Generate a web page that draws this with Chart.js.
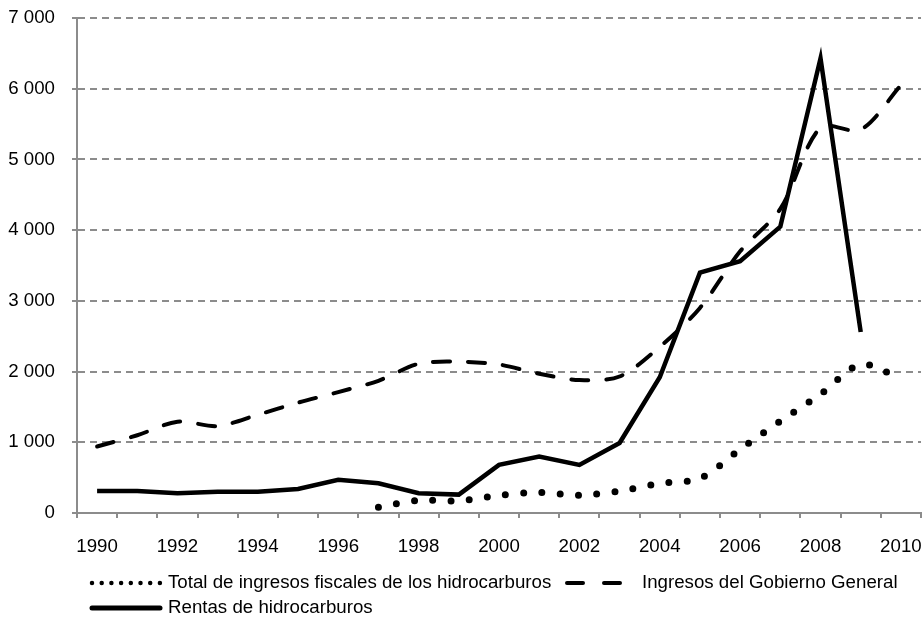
<!DOCTYPE html>
<html>
<head>
<meta charset="utf-8">
<script src="https://cdn.jsdelivr.net/npm/chart.js@4/dist/chart.umd.min.js"></script>
<style>
    body { margin: 0; background: #fff; }
    #wrap { width: 923px; height: 617px; }
</style>
</head>
<body>
<div id="wrap"><canvas id="hidroChart" width="923" height="617"></canvas></div>
<script>
// Data
const years = ['1990', '1991', '1992', '1993', '1994', '1995', '1996', '1997', '1998', '1999', '2000',
               '2001', '2002', '2003', '2004', '2005', '2006', '2007', '2008', '2009', '2010'];

const ingresosFiscales = [null, null, null, null, null, null, null,
                          80, 180, 170, 250, 290, 250, 310, 420, 490, 900, 1300, 1680, 2100, 1900];

const ingresosGobierno = [940, 1100, 1290, 1230, 1390, 1560, 1710, 1870, 2110, 2140, 2100,
                          1970, 1880, 1930, 2350, 2900, 3700, 4300, 5450, 5420, 6050];

const rentas = [310, 310, 280, 300, 300, 340, 470, 420, 280, 260, 680,
                800, 680, 990, 1920, 3400, 3560, 4050, 6430, 2560, null];

const yTicks = [0, 1000, 2000, 3000, 4000, 5000, 6000, 7000];

const labelFont = '"Liberation Sans", Arial, sans-serif';
const fontSize = 18.7;
const gridColor = '#8c8c8c';

function fmt(v) {
    return String(v).replace(/\B(?=(\d{3})+(?!\d))/g, ' ');
}

// Legend drawn by hand: two items on the first row, one on the second, left aligned
const customLegend = {
    id: 'customLegend',
    afterDraw(chart) {
        const ctx = chart.ctx;
        const items = [
            { text: 'Total de ingresos fiscales de los hidrocarburos', x1: 92, x2: 160, tx: 168, y: 583, dash: [0, 9.7], width: 4.5 },
            { text: 'Ingresos del Gobierno General', x1: 567, x2: 620, tx: 642, y: 583, dash: [16, 21], width: 4 },
            { text: 'Rentas de hidrocarburos', x1: 92, x2: 160, tx: 168, y: 608, dash: [], width: 5 }
        ];
        ctx.save();
        items.forEach(it => {
            ctx.beginPath();
            ctx.setLineDash(it.dash);
            ctx.lineCap = 'round';
            ctx.lineWidth = it.width;
            ctx.strokeStyle = '#000';
            ctx.moveTo(it.x1, it.y);
            ctx.lineTo(it.x2, it.y);
            ctx.stroke();
            ctx.setLineDash([]);
            ctx.font = fontSize + 'px ' + labelFont;
            ctx.fillStyle = '#000';
            ctx.textBaseline = 'middle';
            ctx.textAlign = 'left';
            ctx.fillText(it.text, it.tx, it.y);
        });
        ctx.restore();
    }
};

const ctx = document.getElementById('hidroChart');
new Chart(ctx, {
    type: 'line',
    data: {
        labels: years,
        datasets: [
            {
                label: 'Rentas de hidrocarburos',
                data: rentas,
                borderColor: '#000',
                borderWidth: 4.5,
                borderJoinStyle: 'miter',
                pointRadius: 0,
                tension: 0,
                spanGaps: false
            },
            {
                label: 'Total de ingresos fiscales de los hidrocarburos',
                data: ingresosFiscales,
                borderColor: '#000',
                borderWidth: 7,
                borderDash: [0, 18.3],
                borderCapStyle: 'round',
                pointRadius: 0,
                tension: 0.3,
                spanGaps: false
            },
            {
                label: 'Ingresos del Gobierno General',
                data: ingresosGobierno,
                borderColor: '#000',
                borderWidth: 4,
                borderDash: [17, 18],
                borderCapStyle: 'round',
                pointRadius: 0,
                tension: 0.3
            }
        ]
    },
    options: {
        responsive: false,
        animation: false,
        events: [],
        layout: {
            padding: { left: 0, right: 2, top: 18, bottom: 57 }
        },
        plugins: {
            legend: { display: false },
            tooltip: { enabled: false }
        },
        scales: {
            x: {
                type: 'category',
                offset: true,
                afterFit: s => { s.height = 47; s.paddingLeft = 0; s.paddingRight = 0; },
                grid: {
                    offset: true,
                    drawOnChartArea: false,
                    drawTicks: true,
                    tickLength: 5,
                    color: gridColor,
                    lineWidth: 2
                },
                border: { color: gridColor, width: 2 },
                ticks: {
                    autoSkip: false,
                    maxRotation: 0,
                    padding: 18,
                    color: '#000',
                    font: { family: labelFont, size: fontSize },
                    callback: (v, i) => (i % 2 === 0 ? years[i] : '')
                }
            },
            y: {
                min: 0,
                max: 7000,
                afterFit: s => { s.width = 77; s.paddingTop = 0; s.paddingBottom = 0; },
                afterBuildTicks: s => { s.ticks = yTicks.map(v => ({ value: v })); },
                grid: {
                    color: gridColor,
                    lineWidth: 2,
                    tickLength: 5,
                    tickBorderDash: [7, 5]
                },
                border: { color: gridColor, width: 2, dash: [7, 5] },
                ticks: {
                    padding: 17,
                    color: '#000',
                    font: { family: labelFont, size: fontSize },
                    callback: v => fmt(v)
                }
            }
        }
    },
    plugins: [customLegend]
});
</script>
</body>
</html>
